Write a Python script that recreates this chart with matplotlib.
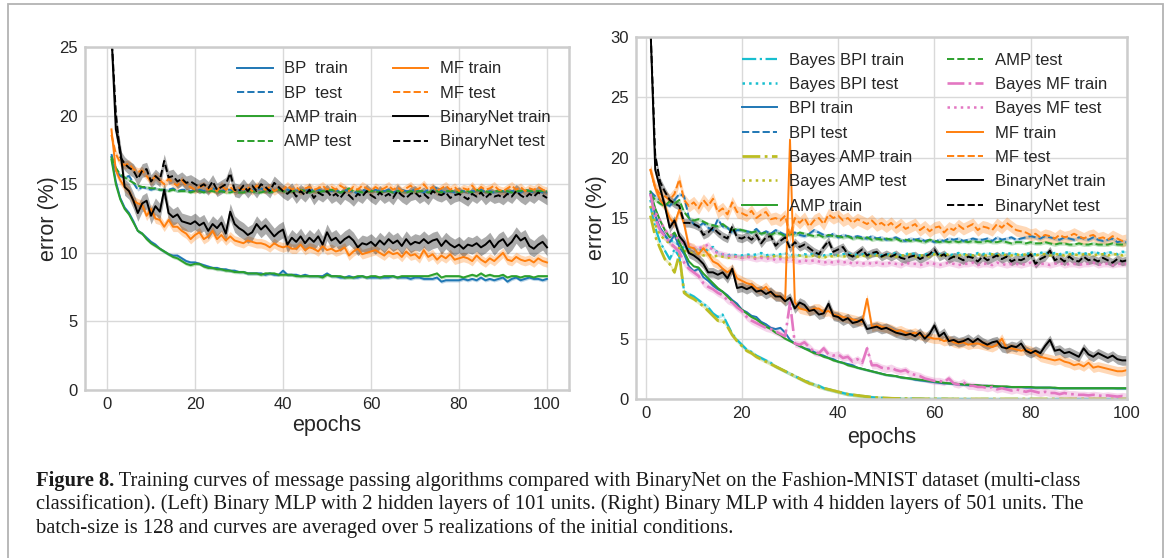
import numpy as np
import matplotlib
matplotlib.use("Agg")
import matplotlib.pyplot as plt
from matplotlib.patches import Rectangle

plt.rcParams.update({"font.family": ["Liberation Sans", "DejaVu Sans"], "font.size": 12,
                     "axes.edgecolor": "#cccccc", "axes.linewidth": 1.8,
                     "grid.color": "#d9d9d9", "grid.linewidth": 1.0,
                     "xtick.major.size": 0, "ytick.major.size": 0,
                     "xtick.major.pad": 5, "ytick.major.pad": 5,
                     "xtick.color": "#262626", "ytick.color": "#262626",
                     "axes.labelcolor": "#262626", "text.color": "#262626"})

epochs = np.arange(1, 101)

# ---------------- left panel: 2 hidden layers of 101 units ----------------
bp_train_L = [17.0, 15.2, 14.0, 13.3, 12.9, 12.3, 11.6, 11.4, 11.1, 10.8,
              10.6, 10.3, 10.1, 9.9, 9.8, 9.8, 9.6, 9.4, 9.3, 9.3,
              9.2, 9.1, 9.0, 8.9, 8.9, 8.8, 8.8, 8.7, 8.7, 8.6,
              8.6, 8.5, 8.5, 8.5, 8.5, 8.4, 8.5, 8.4, 8.4, 8.7,
              8.4, 8.4, 8.4, 8.3, 8.4, 8.3, 8.3, 8.3, 8.3, 8.5,
              8.3, 8.3, 8.2, 8.2, 8.3, 8.2, 8.2, 8.3, 8.2, 8.2,
              8.2, 8.2, 8.2, 8.2, 8.3, 8.2, 8.2, 8.2, 8.1, 8.2,
              8.2, 8.1, 8.1, 8.1, 8.2, 7.9, 8.0, 8.0, 8.0, 8.0,
              8.1, 8.0, 8.1, 8.0, 8.2, 8.0, 8.1, 8.0, 8.1, 8.2,
              7.9, 8.1, 8.2, 8.0, 8.1, 8.2, 8.1, 8.1, 8.0, 8.1]
bp_test_L = [17.2, 16.0, 15.6, 15.5, 15.6, 15.1, 14.6, 14.8, 14.7, 14.6,
             14.7, 14.6, 14.6, 14.6, 14.7, 14.5, 14.6, 14.6, 14.5, 14.6,
             14.6, 14.5, 14.6, 14.7, 14.6, 14.5, 14.6, 14.6, 14.5, 14.6,
             14.6, 14.5, 14.6, 14.6, 14.7, 14.5, 14.6, 14.6, 14.7, 14.5,
             14.6, 14.5, 14.6, 14.5, 14.6, 14.5, 14.6, 14.6, 14.5, 14.6,
             14.5, 14.6, 14.4, 14.6, 14.5, 14.5, 14.3, 14.6, 14.5, 14.5,
             14.6, 14.5, 14.5, 14.6, 14.4, 14.5, 14.6, 14.5, 14.5, 14.6,
             14.5, 14.4, 14.6, 14.5, 14.8, 14.5, 14.4, 14.5, 14.4, 14.5,
             14.5, 14.4, 14.5, 14.5, 14.6, 14.4, 14.5, 14.4, 14.5, 14.5,
             14.4, 14.5, 14.5, 14.4, 14.6, 14.5, 14.4, 14.5, 14.4, 14.4]
amp_train_L = [16.8, 15.0, 13.9, 13.2, 12.8, 12.2, 11.6, 11.4, 11.0, 10.7,
               10.5, 10.3, 10.1, 9.9, 9.7, 9.6, 9.4, 9.2, 9.1, 9.2,
               9.2, 9.0, 8.9, 8.9, 8.8, 8.8, 8.7, 8.7, 8.6, 8.6,
               8.6, 8.5, 8.5, 8.5, 8.4, 8.5, 8.5, 8.5, 8.4, 8.4,
               8.4, 8.4, 8.3, 8.3, 8.3, 8.3, 8.3, 8.3, 8.2, 8.4,
               8.3, 8.3, 8.3, 8.2, 8.2, 8.2, 8.3, 8.3, 8.2, 8.3,
               8.3, 8.2, 8.3, 8.3, 8.3, 8.2, 8.3, 8.3, 8.3, 8.3,
               8.3, 8.3, 8.3, 8.4, 8.5, 8.2, 8.3, 8.3, 8.3, 8.3,
               8.2, 8.3, 8.4, 8.3, 8.5, 8.3, 8.4, 8.3, 8.3, 8.4,
               8.2, 8.3, 8.3, 8.2, 8.3, 8.3, 8.2, 8.3, 8.3, 8.3]
amp_test_L = [17.0, 16.2, 15.7, 15.5, 15.3, 15.1, 14.9, 14.8, 14.8, 14.7,
              14.7, 14.6, 14.6, 14.5, 14.6, 14.5, 14.5, 14.5, 14.4, 14.5,
              14.5, 14.4, 14.5, 14.5, 14.4, 14.5, 14.4, 14.4, 14.5, 14.4,
              14.4, 14.5, 14.5, 14.4, 14.4, 14.5, 14.4, 14.5, 14.6, 14.5,
              14.4, 14.5, 14.5, 14.6, 14.5, 14.4, 14.5, 14.4, 14.5, 14.5,
              14.6, 14.5, 14.4, 14.5, 14.7, 14.5, 14.5, 14.4, 14.5, 14.5,
              14.5, 14.4, 14.5, 14.5, 14.4, 14.5, 14.5, 14.4, 14.5, 14.4,
              14.5, 14.5, 14.4, 14.5, 14.5, 14.4, 14.5, 14.5, 14.5, 14.4,
              14.5, 14.5, 14.4, 14.6, 14.5, 14.5, 14.4, 14.5, 14.5, 14.5,
              14.5, 14.4, 14.5, 14.5, 14.6, 14.5, 14.5, 14.5, 14.5, 14.5]
mf_train_L = [19.0, 16.0, 15.3, 14.8, 14.5, 13.8, 13.6, 13.5, 12.7, 13.2,
              12.5, 12.4, 11.9, 12.4, 11.9, 11.9, 11.6, 11.4, 11.0, 11.3,
              11.5, 11.0, 11.2, 11.6, 11.0, 11.3, 10.9, 11.2, 10.9, 10.8,
              10.7, 10.9, 10.8, 10.7, 10.7, 10.6, 10.4, 10.7, 10.5, 10.4,
              10.5, 10.3, 10.3, 10.6, 10.2, 10.4, 10.3, 10.1, 10.5, 10.2,
              10.3, 10.1, 10.2, 10.4, 9.8, 10.1, 10.3, 9.9, 10.0, 10.1,
              10.2, 10.0, 9.8, 10.1, 9.9, 10.0, 9.7, 10.1, 9.8, 9.9,
              9.6, 10.2, 9.7, 9.9, 9.5, 9.8, 9.6, 9.9, 9.5, 9.6,
              9.7, 9.6, 9.4, 9.8, 9.5, 9.3, 9.6, 9.4, 9.7, 10.0,
              9.5, 9.4, 9.7, 9.5, 9.4, 9.5, 9.3, 9.6, 9.4, 9.3]
mf_test_L = [18.6, 17.2, 16.6, 16.4, 16.5, 16.1, 15.9, 16.0, 15.6, 15.2,
             15.6, 15.3, 15.0, 15.4, 15.1, 14.9, 15.3, 14.9, 14.8, 14.6,
             14.8, 14.9, 14.6, 14.7, 14.5, 14.9, 14.6, 14.8, 14.5, 14.7,
             14.6, 14.8, 14.5, 14.9, 14.7, 14.6, 14.8, 14.5, 14.7, 14.6,
             14.9, 14.6, 14.8, 14.5, 14.7, 14.8, 14.6, 14.7, 14.9, 14.6,
             14.8, 14.6, 14.9, 14.7, 14.5, 14.8, 14.6, 14.9, 14.7, 14.5,
             14.8, 14.6, 14.7, 14.9, 14.6, 14.8, 14.5, 14.7, 14.9, 14.6,
             14.7, 15.0, 14.6, 14.8, 14.5, 14.7, 14.9, 14.6, 14.8, 14.5,
             14.7, 14.6, 14.9, 14.5, 14.8, 14.6, 14.7, 14.9, 14.6, 14.5,
             14.7, 14.9, 14.6, 14.8, 14.5, 14.7, 14.6, 14.8, 14.6, 14.5]
bnn_train_L = [26.0, 19.0, 17.5, 14.8, 14.5, 13.8, 12.9, 13.6, 13.8, 12.7,
               13.4, 13.0, 14.6, 12.9, 12.6, 12.8, 12.3, 12.2, 12.1, 12.3,
               12.0, 12.2, 11.6, 12.1, 11.8, 12.2, 11.4, 13.0, 12.1, 11.8,
               11.6, 11.3, 11.5, 12.1, 11.7, 12.0, 11.6, 11.2, 11.5, 11.7,
               10.6, 11.1, 10.8, 11.2, 10.7, 11.1, 10.8, 11.2, 10.6, 11.5,
               10.9, 11.1, 10.7, 11.0, 11.2, 10.9, 10.4, 10.7, 10.6, 10.8,
               10.5, 10.9, 10.6, 11.0, 10.7, 10.9, 10.5, 11.0, 10.6, 10.8,
               10.7, 11.0, 10.7, 10.9, 11.0, 10.5, 10.9, 10.6, 10.4, 10.6,
               10.3, 10.6, 10.5, 10.7, 10.4, 10.6, 10.9, 10.4, 10.8, 11.0,
               10.5, 10.8, 11.3, 10.9, 11.1, 10.5, 10.3, 10.6, 10.8, 10.4]
bnn_test_L = [26.0, 20.2, 17.0, 16.5, 16.2, 16.0, 15.4, 16.0, 16.1, 15.2,
              15.6, 15.3, 16.7, 15.5, 15.6, 15.2, 15.4, 15.1, 15.2, 15.0,
              14.8, 15.0, 14.7, 15.2, 14.6, 14.8, 15.0, 15.8, 14.6, 14.5,
              14.9, 14.5, 14.9, 14.5, 15.0, 14.8, 14.5, 15.1, 14.8, 14.5,
              14.3, 14.6, 14.1, 14.5, 14.2, 14.6, 14.0, 14.4, 14.2, 14.5,
              14.1, 14.3, 14.0, 14.4, 14.2, 13.9, 14.3, 14.1, 14.5, 14.2,
              14.0, 14.4, 14.1, 14.3, 14.0, 14.5, 14.2, 14.0, 14.3, 14.4,
              14.1, 14.3, 14.0, 14.5, 14.3, 14.2, 14.4, 14.0, 14.2, 14.3,
              14.1, 13.9, 14.3, 14.1, 14.4, 14.0, 14.3, 14.1, 14.2, 14.0,
              14.3, 14.1, 14.5, 14.2, 14.0, 14.3, 14.1, 14.4, 14.2, 14.0]

# ---------------- right panel: 4 hidden layers of 501 units ----------------
bbpi_train = [16.0, 14.2, 13.0, 12.3, 11.6, 12.4, 11.8, 8.9, 8.7, 8.5,
              8.2, 7.9, 7.6, 7.1, 6.8, 7.0, 6.2, 5.4, 4.9, 4.5,
              4.1, 3.9, 3.6, 3.4, 3.2, 3.0, 2.7, 2.5, 2.3, 2.1,
              1.9, 1.7, 1.5, 1.4, 1.2, 1.1, 0.9, 0.8, 0.7, 0.6,
              0.5, 0.4, 0.35, 0.3, 0.25, 0.2, 0.15, 0.12, 0.1, 0.08,
              0.06, 0.05, 0.04, 0.03, 0.03, 0.02, 0.02, 0.01, 0.01, 0.01,
              0.01, 0.01, 0.01, 0.01, 0.0, 0.0, 0.0, 0.0, 0.0, 0.0,
              0.0, 0.0, 0.0, 0.0, 0.0, 0.0, 0.0, 0.0, 0.0, 0.0,
              0.0, 0.0, 0.0, 0.0, 0.0, 0.0, 0.0, 0.0, 0.0, 0.0,
              0.0, 0.0, 0.0, 0.0, 0.0, 0.0, 0.0, 0.0, 0.0, 0.0]
bbpi_test = [16.5, 15.0, 14.0, 13.5, 13.2, 13.0, 12.8, 12.5, 12.5, 12.3,
             12.5, 12.2, 12.4, 12.6, 12.1, 12.0, 11.9, 12.0, 11.9, 11.9,
             12.0, 11.9, 12.0, 12.1, 11.9, 12.0, 11.9, 12.0, 12.1, 11.9,
             12.0, 11.9, 12.0, 11.9, 12.1, 12.0, 11.9, 12.0, 12.0, 11.9,
             12.0, 12.1, 11.9, 12.0, 12.0, 11.9, 12.1, 12.0, 11.9, 12.0,
             12.0, 12.1, 11.9, 12.0, 12.1, 12.0, 11.9, 12.0, 12.0, 12.1,
             12.0, 12.1, 11.9, 12.0, 12.1, 12.0, 12.0, 11.9, 12.1, 12.0,
             12.1, 12.0, 12.0, 12.1, 12.0, 12.1, 12.0, 11.9, 12.1, 12.0,
             12.0, 12.1, 12.2, 12.0, 12.1, 12.0, 12.1, 12.2, 12.0, 12.1,
             12.1, 12.0, 12.2, 12.1, 12.0, 12.2, 12.1, 12.0, 12.2, 12.2]
bpi_train = [17.0, 15.2, 14.2, 13.6, 13.0, 13.6, 12.6, 12.0, 11.0, 10.6,
             10.8, 10.1, 9.8, 9.4, 9.1, 8.9, 8.6, 8.2, 7.9, 7.4,
             7.2, 6.9, 6.8, 6.4, 6.2, 5.9, 5.8, 5.9, 5.5, 4.9,
             4.6, 4.4, 4.2, 4.1, 3.9, 3.7, 3.6, 3.4, 3.3, 3.1,
             3.0, 2.9, 2.8, 2.6, 2.5, 2.4, 2.3, 2.2, 2.1, 2.0,
             1.95, 1.9, 1.8, 1.75, 1.7, 1.6, 1.55, 1.5, 1.45, 1.4,
             1.35, 1.3, 1.3, 1.25, 1.2, 1.2, 1.15, 1.15, 1.1, 1.1,
             1.1, 1.05, 1.05, 1.0, 1.0, 1.0, 1.0, 1.0, 0.95, 0.95,
             0.95, 0.95, 0.95, 0.95, 0.9, 0.9, 0.9, 0.9, 0.9, 0.9,
             0.9, 0.9, 0.9, 0.9, 0.9, 0.9, 0.9, 0.88, 0.88, 0.88]
bpi_test = [17.2, 16.8, 16.5, 16.2, 16.0, 16.5, 17.0, 16.8, 15.0, 14.5,
            14.3, 14.6, 14.2, 14.0, 14.9, 14.3, 14.2, 13.8, 14.0, 14.0,
            13.9, 13.8, 14.1, 13.7, 13.9, 13.7, 14.0, 13.8, 13.6, 13.7,
            13.8, 13.6, 13.5, 13.7, 14.0, 13.8, 13.6, 13.5, 13.7, 13.4,
            13.6, 13.5, 13.4, 13.5, 13.4, 13.3, 13.5, 13.3, 13.4, 13.2,
            13.3, 13.4, 13.2, 13.1, 13.3, 13.2, 13.3, 13.1, 13.2, 13.0,
            13.2, 13.1, 13.3, 13.2, 13.3, 13.1, 13.2, 13.3, 13.2, 13.2,
            13.3, 13.1, 13.4, 13.2, 13.3, 13.4, 13.2, 13.3, 13.4, 13.5,
            13.4, 13.3, 13.5, 13.4, 13.3, 13.2, 13.4, 13.3, 13.2, 13.4,
            13.3, 13.2, 13.4, 13.2, 13.1, 13.2, 13.3, 13.0, 13.1, 13.0]
bamp_train = [15.2, 13.5, 12.5, 11.6, 11.2, 10.5, 12.0, 8.8, 8.5, 8.3,
              8.0, 7.7, 7.3, 6.9, 6.5, 6.5, 6.0, 5.3, 4.8, 4.4,
              4.0, 3.8, 3.5, 3.3, 3.1, 2.9, 2.7, 2.5, 2.3, 2.1,
              1.9, 1.7, 1.5, 1.3, 1.2, 1.0, 0.9, 0.8, 0.7, 0.6,
              0.5, 0.4, 0.35, 0.3, 0.25, 0.2, 0.15, 0.12, 0.1, 0.08,
              0.06, 0.05, 0.04, 0.03, 0.03, 0.02, 0.02, 0.01, 0.01, 0.01,
              0.01, 0.01, 0.0, 0.0, 0.0, 0.0, 0.0, 0.0, 0.0, 0.0,
              0.0, 0.0, 0.0, 0.0, 0.0, 0.0, 0.0, 0.0, 0.0, 0.0,
              0.0, 0.0, 0.0, 0.0, 0.0, 0.0, 0.0, 0.0, 0.0, 0.0,
              0.0, 0.0, 0.0, 0.0, 0.0, 0.0, 0.0, 0.0, 0.0, 0.0]
bamp_test = [16.0, 14.5, 13.6, 13.2, 12.9, 12.6, 12.5, 12.3, 12.2, 12.0,
             12.1, 11.9, 12.0, 11.8, 11.9, 11.8, 11.7, 11.8, 11.8, 11.7,
             11.8, 11.8, 11.7, 11.8, 11.8, 11.7, 11.9, 11.8, 11.7, 11.8,
             11.8, 11.9, 11.8, 11.8, 11.9, 11.8, 11.7, 11.9, 11.8, 11.9,
             11.8, 11.9, 11.9, 11.8, 11.9, 11.8, 11.9, 11.9, 11.8, 11.9,
             11.9, 11.8, 11.9, 11.9, 12.0, 11.8, 11.9, 11.9, 11.8, 12.0,
             11.9, 11.9, 12.0, 11.8, 11.9, 12.0, 11.9, 11.9, 12.0, 11.9,
             11.9, 12.0, 11.9, 12.0, 11.9, 11.9, 12.0, 11.9, 12.0, 12.0,
             11.9, 12.0, 12.0, 11.9, 12.0, 12.0, 11.9, 12.0, 12.0, 11.9,
             12.0, 12.0, 11.9, 12.0, 12.0, 11.9, 12.0, 12.0, 11.9, 12.0]
amp_train_R = [17.2, 15.8, 14.8, 14.0, 13.4, 13.8, 13.0, 12.2, 11.4, 11.0,
               10.9, 10.4, 10.0, 9.6, 9.2, 8.9, 8.5, 8.1, 7.7, 7.4,
               7.1, 6.8, 6.6, 6.3, 6.0, 5.8, 5.5, 5.3, 5.0, 4.8,
               4.6, 4.4, 4.2, 4.0, 3.8, 3.7, 3.5, 3.4, 3.2, 3.1,
               3.0, 2.8, 2.7, 2.6, 2.5, 2.4, 2.3, 2.2, 2.1, 2.0,
               1.95, 1.9, 1.8, 1.75, 1.7, 1.65, 1.6, 1.55, 1.5, 1.45,
               1.4, 1.35, 1.3, 1.3, 1.25, 1.2, 1.2, 1.15, 1.15, 1.1,
               1.1, 1.1, 1.05, 1.05, 1.05, 1.0, 1.0, 1.0, 1.0, 1.0,
               0.95, 0.95, 0.95, 0.95, 0.95, 0.9, 0.9, 0.9, 0.9, 0.9,
               0.9, 0.9, 0.9, 0.9, 0.9, 0.9, 0.9, 0.9, 0.9, 0.9]
amp_test_R = [17.0, 16.5, 16.2, 16.0, 16.4, 16.2, 16.5, 15.5, 15.0, 14.8,
              14.9, 14.7, 14.5, 14.4, 14.3, 14.5, 14.2, 14.0, 14.1, 14.0,
              13.9, 13.8, 13.9, 13.7, 13.8, 13.6, 13.8, 13.7, 13.5, 13.7,
              13.6, 13.8, 13.7, 13.6, 13.5, 13.6, 13.4, 13.6, 13.5, 13.5,
              13.4, 13.5, 13.3, 13.4, 13.3, 13.4, 13.2, 13.3, 13.2, 13.3,
              13.2, 13.3, 13.1, 13.2, 13.1, 13.2, 13.1, 13.0, 13.2, 13.1,
              13.0, 13.1, 13.0, 13.1, 13.0, 13.1, 13.0, 13.1, 13.0, 13.0,
              13.1, 13.0, 13.0, 13.1, 13.0, 12.9, 13.0, 13.0, 12.9, 13.0,
              12.9, 12.9, 13.0, 12.9, 12.8, 12.9, 12.9, 12.8, 12.8, 12.9,
              12.8, 12.8, 12.9, 12.8, 12.8, 12.8, 12.9, 12.8, 12.8, 12.9]
bmf_train = [17.0, 15.0, 14.0, 13.5, 13.0, 12.6, 12.2, 11.3, 10.8, 10.5,
             10.2, 9.6, 9.3, 9.1, 8.8, 8.6, 8.2, 8.0, 7.6, 7.3,
             6.8, 6.5, 6.3, 6.1, 5.9, 5.8, 5.6, 5.4, 5.2, 8.0,
             4.6, 4.5, 4.7, 4.3, 3.9, 3.8, 4.2, 3.7, 3.6, 3.7,
             3.4, 3.5, 3.1, 3.3, 3.0, 4.2, 2.8, 2.8, 2.6, 2.5,
             2.6, 2.4, 2.3, 2.4, 2.1, 2.0, 1.9, 1.7, 1.6, 1.5,
             1.5, 1.4, 1.7, 1.3, 1.2, 1.4, 1.1, 1.1, 1.0, 1.0,
             0.9, 1.0, 0.8, 0.9, 0.8, 0.7, 0.8, 0.7, 0.6, 0.7,
             0.6, 0.5, 0.6, 0.5, 0.5, 0.4, 0.5, 0.4, 0.4, 0.35,
             0.35, 0.3, 0.35, 0.3, 0.25, 0.3, 0.25, 0.2, 0.25, 0.2]
bmf_test = [17.0, 15.5, 14.8, 14.0, 13.6, 13.5, 13.2, 13.0, 12.8, 12.5,
            12.5, 12.6, 12.8, 12.3, 12.1, 12.0, 11.9, 11.8, 11.8, 11.7,
            11.8, 11.7, 11.6, 11.7, 11.6, 11.7, 11.5, 11.6, 11.5, 11.6,
            11.5, 11.4, 11.5, 11.4, 11.5, 11.4, 11.3, 11.4, 11.3, 11.4,
            11.3, 11.4, 11.2, 11.3, 11.2, 11.3, 11.2, 11.3, 11.2, 11.2,
            11.3, 11.2, 11.1, 11.3, 11.2, 11.2, 11.1, 11.2, 11.3, 11.2,
            11.1, 11.2, 11.3, 11.2, 11.1, 11.2, 11.2, 11.3, 11.1, 11.2,
            11.2, 11.1, 11.3, 11.2, 11.1, 11.2, 11.2, 11.1, 11.2, 11.3,
            11.1, 11.2, 11.2, 11.1, 11.2, 11.3, 11.1, 11.2, 11.2, 11.1,
            11.2, 11.2, 11.3, 11.1, 11.2, 11.2, 11.1, 11.2, 11.2, 11.2]
mf_train_R = [19.0, 17.5, 16.5, 16.0, 15.0, 14.5, 15.7, 14.5, 12.6, 12.5,
              12.0, 12.5, 12.0, 11.4, 11.2, 10.8, 10.5, 10.8, 10.0, 9.8,
              9.6, 9.5, 9.2, 9.0, 9.3, 8.8, 8.6, 8.5, 8.2, 21.5,
              8.0, 7.5, 7.4, 7.3, 7.5, 7.5, 7.2, 7.3, 7.0, 6.9,
              6.8, 6.7, 6.6, 6.5, 6.4, 8.3, 6.0, 6.1, 6.0, 5.9,
              5.8, 5.6, 5.7, 5.5, 5.4, 5.5, 5.3, 5.2, 5.1, 5.0,
              5.0, 4.8, 4.9, 4.7, 4.6, 4.7, 4.5, 4.6, 4.6, 4.5,
              4.4, 4.3, 4.5, 5.0, 4.2, 4.2, 4.1, 4.0, 4.1, 4.0,
              3.8, 3.5, 3.4, 3.3, 3.2, 3.3, 3.1, 3.0, 2.8, 2.9,
              2.7, 3.0, 2.6, 2.7, 2.6, 2.5, 2.4, 2.3, 2.3, 2.4]
mf_test_R = [19.0, 17.5, 17.0, 16.8, 16.5, 17.0, 18.2, 16.5, 16.0, 16.3,
             15.8, 16.5, 16.0, 16.6, 15.5, 15.8, 15.3, 16.3, 15.5, 15.4,
             15.2, 15.6, 15.0, 15.3, 15.5, 14.9, 15.0, 14.8, 15.2, 13.5,
             15.0, 14.6, 15.0, 14.3, 14.8, 15.0, 14.5, 15.3, 15.0, 15.2,
             14.8, 15.0, 14.6, 14.9, 14.7, 14.5, 14.8, 14.4, 14.6, 14.3,
             14.6, 14.2, 14.5, 14.1, 14.3, 14.5, 14.0, 14.3, 13.9, 14.2,
             14.3, 13.8, 14.2, 14.0, 14.4, 14.1, 14.3, 14.5, 14.0, 14.3,
             14.2, 14.0, 14.5, 14.2, 14.6, 14.3, 14.0, 13.9, 13.8, 13.6,
             13.7, 13.4, 13.6, 13.5, 13.3, 13.6, 13.4, 13.5, 13.7, 13.5,
             13.3, 13.5, 13.6, 13.3, 13.4, 13.2, 13.5, 13.3, 13.1, 13.2]
bnn_train_R = [31.0, 19.0, 17.5, 16.0, 14.2, 14.8, 13.5, 13.0, 12.1, 11.9,
               11.6, 11.2, 10.5, 10.5, 10.3, 10.5, 10.0, 10.8, 9.2, 9.3,
               9.1, 9.3, 8.9, 9.0, 8.7, 8.9, 8.5, 8.5, 8.1, 8.4,
               7.5, 8.0, 7.8, 7.3, 7.4, 7.0, 7.1, 7.9, 6.9, 6.8,
               6.5, 6.7, 6.3, 6.4, 6.6, 5.8, 5.9, 6.0, 5.8, 5.9,
               5.7, 5.5, 5.4, 5.3, 5.4, 5.2, 5.5, 5.0, 5.4, 6.1,
               5.2, 5.5, 4.8, 4.9, 4.7, 4.8, 5.0, 4.7, 5.0, 4.7,
               4.5, 4.7, 4.8, 4.3, 4.2, 4.4, 4.3, 4.6, 4.0, 3.8,
               4.0, 3.8, 4.4, 4.9, 4.0, 4.1, 3.8, 3.9, 3.7, 3.5,
               4.2, 3.7, 3.5, 3.8, 3.6, 3.4, 3.6, 3.3, 3.2, 3.2]
bnn_test_R = [31.0, 20.2, 18.0, 17.2, 16.5, 16.2, 16.0, 14.6, 14.6, 14.5,
              14.3, 13.6, 13.8, 14.2, 13.8, 13.5, 13.3, 14.3, 13.4, 13.3,
              13.5, 13.2, 13.6, 12.9, 13.4, 13.5, 12.7, 13.1, 13.4, 12.5,
              13.0, 12.6, 12.8, 12.5, 12.2, 12.0, 12.6, 13.1, 12.2, 12.4,
              12.6, 12.0, 11.8, 12.1, 12.4, 11.9, 12.1, 12.2, 11.8, 12.0,
              11.8, 12.0, 11.7, 11.6, 11.8, 11.9, 11.6, 11.8, 12.0, 12.4,
              11.8, 12.0, 11.6, 11.8, 11.7, 11.5, 11.8, 11.7, 11.4, 11.8,
              11.5, 11.7, 11.9, 11.6, 11.8, 11.4, 11.6, 11.5, 11.7, 12.0,
              11.2, 11.6, 11.8, 12.3, 11.5, 11.7, 11.4, 11.8, 11.5, 11.4,
              11.8, 11.5, 11.6, 11.4, 11.7, 11.5, 11.3, 11.6, 11.4, 11.5]

# spread (+/-) of the shaded bands, one value per curve
spread_L = [0.12, 0.1, 0.12, 0.1, 0.35, 0.3, 0.6, 0.5]
spread_R = [0.15, 0.1, 0.1, 0.15, 0.15, 0.1, 0.1, 0.15, 0.3, 0.25, 0.4, 0.5, 0.4, 0.35]

labels_L = ["BP  train", "BP  test", "AMP train", "AMP test",
            "MF train", "MF test", "BinaryNet train", "BinaryNet test"]
labels_R = ["Bayes BPI train", "Bayes BPI test", "BPI train", "BPI test",
            "Bayes AMP train", "Bayes AMP test", "AMP train", "AMP test",
            "Bayes MF train", "Bayes MF test", "MF train", "MF test",
            "BinaryNet train", "BinaryNet test"]

caption_bold = "Figure 8."
caption_rest = [" Training curves of message passing algorithms compared with BinaryNet on the Fashion-MNIST dataset (multi-class",
                "classification). (Left) Binary MLP with 2 hidden layers of 101 units. (Right) Binary MLP with 4 hidden layers of 501 units. The",
                "batch-size is 128 and curves are averaged over 5 realizations of the initial conditions."]

C = {"blue": "#1f77b4", "orange": "#ff7f0e", "green": "#2ca02c", "pink": "#e377c2",
     "olive": "#bcbd22", "cyan": "#17becf", "black": "k"}
sty_L = [("blue", "-", 1.4), ("blue", "--", 1.4), ("green", "-", 1.4), ("green", "--", 1.4),
         ("orange", "-", 1.4), ("orange", "--", 1.4), ("black", "-", 1.4), ("black", "--", 1.4)]
sty_R = [("cyan", "-.", 1.6), ("cyan", ":", 1.8), ("blue", "-", 1.4), ("blue", "--", 1.4),
         ("olive", "-.", 2.0), ("olive", ":", 1.8), ("green", "-", 1.4), ("green", "--", 1.4),
         ("pink", "-.", 1.9), ("pink", ":", 1.8), ("orange", "-", 1.4), ("orange", "--", 1.4),
         ("black", "-", 1.4), ("black", "--", 1.4)]

fig = plt.figure(figsize=(11.71, 5.58), dpi=100)
axL = fig.add_axes([0.0726, 0.301, 0.4133, 0.6147])
axR = fig.add_axes([0.5431, 0.2849, 0.4193, 0.6487])

def panel(ax, series, spreads, styles, labels, ypad, xpad):
    for y, s, (c, ls, lw), lab in zip(series, spreads, styles, labels):
        y = np.array(y)
        col = C[c]
        ax.fill_between(epochs, y - s, y + s, color=col, alpha=0.3 if c != "black" else 0.33, lw=0)
        ax.plot(epochs, y, color=col, ls=ls, lw=lw, label=lab)
    ax.grid(True)
    ax.set_axisbelow(True)
    ax.set_xlabel("epochs", fontsize=15.5, labelpad=xpad)
    ax.set_ylabel("error (%)", fontsize=15.5, labelpad=ypad)
    ax.set_xticks([0, 20, 40, 60, 80, 100])

leg_kw = dict(ncol=2, frameon=False, loc="upper left", borderaxespad=0, borderpad=0,
              handlelength=2.15, handletextpad=0.7, columnspacing=2.1, labelspacing=0.56)

panel(axL, [bp_train_L, bp_test_L, amp_train_L, amp_test_L, mf_train_L, mf_test_L, bnn_train_L, bnn_test_L],
      spread_L, sty_L, labels_L, 0.5, 2)
axL.set_xlim(-5, 105); axL.set_ylim(0, 25)
axL.legend(bbox_to_anchor=(0.314, 0.958), **leg_kw)

panel(axR, [bbpi_train, bbpi_test, bpi_train, bpi_test, bamp_train, bamp_test, amp_train_R, amp_test_R,
            bmf_train, bmf_test, mf_train_R, mf_test_R, bnn_train_R, bnn_test_R],
      spread_R, sty_R, labels_R, 2.5, 4)
axR.set_xlim(-2, 100); axR.set_ylim(0, 30)
axR.legend(bbox_to_anchor=(0.215, 0.957), **leg_kw)

# caption and frame
fig.patches.append(Rectangle((8 / 1171, -0.1), 1155 / 1171, 1.1 - 4 / 558, transform=fig.transFigure,
                             fill=False, ec="#b3b3b3", lw=1.3))
cap_font = dict(family=["Liberation Serif", "DejaVu Serif"], fontsize=14.8, color="#1a1a1a", va="baseline")
x0, y0, dy = 36 / 1171, 1 - 486 / 558, 23.5 / 558
tb = fig.text(x0, y0, caption_bold, fontweight="bold", **cap_font)
r = fig.canvas.get_renderer()
wb = tb.get_window_extent(r).width / fig.bbox.width
fig.text(x0 + wb, y0, caption_rest[0], **cap_font)
fig.text(x0, y0 - dy, caption_rest[1], **cap_font)
fig.text(x0, y0 - 2 * dy, caption_rest[2], **cap_font)

fig.savefig("out.png", dpi=100)
